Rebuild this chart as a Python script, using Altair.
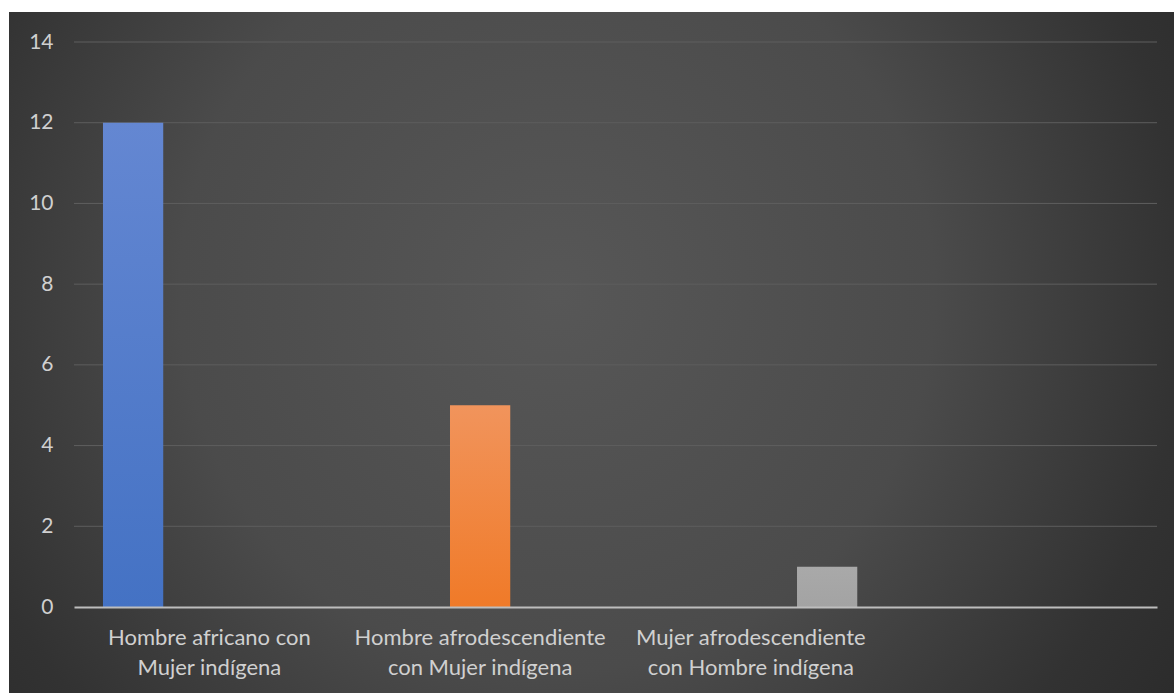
import altair as alt
import pandas as pd

# --- data ---
line1 = ["Hombre africano con", "Hombre afrodescendiente", "Mujer afrodescendiente", ""]
line2 = ["Mujer indígena", "con Mujer indígena", "con Hombre indígena", ""]
categories = [a + "|" + b if a else " " for a, b in zip(line1, line2)]
series = ["S1", "S2", "S3"]
values = [12, 5, 1]
y_ticks = [0, 2, 4, 6, 8, 10, 12, 14]

bars_df = pd.DataFrame({
    "cat": categories[:3],
    "serie": series,
    "value": values,
})
grid_df = pd.DataFrame({"value": y_ticks[1:]})
bg_df = pd.DataFrame({"k": [0]})

W, H = 1083, 565
LABEL = "#d0d0d0"
FONT = "Lato"

y_axis = alt.Axis(values=y_ticks, grid=False, domain=False, ticks=False,
                  labelColor=LABEL, labelFontSize=21, labelFont=FONT,
                  labelPadding=21, title=None, zindex=1)
y_scale = alt.Scale(domain=[0, 14], nice=False)

x_axis = alt.Axis(labelAngle=0, ticks=False, domain=True, domainColor="#bdbdbd",
                  domainWidth=2, labelColor=LABEL, labelFontSize=22, labelFont=FONT,
                  labelPadding=20, labelBaseline="top", labelLineHeight=30,
                  labelExpr="split(datum.value, '|')", title=None, zindex=1,
                  labelLimit=400)
x_scale = alt.Scale(domain=categories, paddingInner=0, paddingOuter=0)
xo_scale = alt.Scale(domain=series, paddingInner=0.21, paddingOuter=0.38)

bg = alt.Chart(bg_df).mark_rect(
    fill=alt.RadialGradient(
        gradient="radial", x1=0.47, y1=0.45, x2=0.47, y2=0.45, r1=0, r2=0.72,
        stops=[alt.GradientStop(offset=0, color="#575757"),
               alt.GradientStop(offset=0.45, color="#4b4b4b"),
               alt.GradientStop(offset=0.75, color="#323232"),
               alt.GradientStop(offset=1, color="#262626")]),
    stroke=None,
).encode(x=alt.value(-65), x2=alt.value(1100), y=alt.value(-30), y2=alt.value(651))

grid = alt.Chart(grid_df).mark_rule(color="#5e5e5e", strokeWidth=1).encode(
    y=alt.Y("value:Q", scale=y_scale, axis=y_axis)
)

fills = {
    "S1": ("#6487d2", "#4472c4"),
    "S2": ("#f1945c", "#f07a28"),
    "S3": ("#a9a9a9", "#a3a3a3"),
}

bar_layers = []
for s in series:
    top, bot = fills[s]
    bar_layers.append(
        alt.Chart(bars_df).transform_filter(alt.datum.serie == s).mark_bar(
            fill=alt.LinearGradient(
                gradient="linear", x1=0, y1=0, x2=0, y2=1,
                stops=[alt.GradientStop(offset=0, color=top),
                       alt.GradientStop(offset=1, color=bot)]),
        ).encode(
            x=alt.X("cat:N", scale=x_scale, axis=x_axis, sort=categories),
            xOffset=alt.XOffset("serie:N", scale=xo_scale),
            y=alt.Y("value:Q", scale=y_scale, axis=y_axis),
        )
    )

chart = alt.layer(bg, grid, *bar_layers).properties(
    width=W, height=H,
    background="white",
    padding={"left": 74, "top": 42, "right": 17, "bottom": 86},
    autosize=alt.AutoSizeParams(type="none"),
).configure_view(stroke=None)

chart.save("out.html", embed_options={"renderer": "svg", "actions": False})
